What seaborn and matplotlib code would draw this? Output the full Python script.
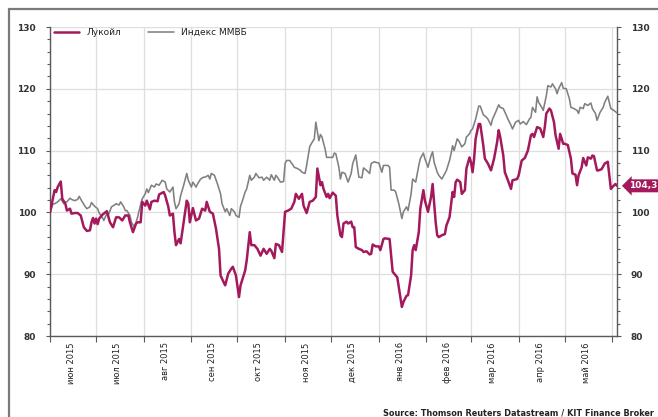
import matplotlib
matplotlib.use("Agg")
import matplotlib.pyplot as plt
import matplotlib.dates as mdates
import matplotlib.transforms as mtransforms
from matplotlib.ticker import MultipleLocator, FixedLocator, FixedFormatter, NullFormatter
from matplotlib.lines import Line2D
import pandas as pd
import seaborn as sns

# ---------------- data ----------------
series_names = ["Лукойл", "Индекс ММВБ"]

luk_dates = [
    "2015-06-01", "2015-06-04", "2015-06-05", "2015-06-06", "2015-06-08", "2015-06-09", "2015-06-11", "2015-06-12", "2015-06-14", "2015-06-15",
    "2015-06-17", "2015-06-19", "2015-06-21", "2015-06-23", "2015-06-25", "2015-06-27", "2015-06-28", "2015-06-29", "2015-06-30", "2015-07-01",
    "2015-07-02", "2015-07-03", "2015-07-05", "2015-07-08", "2015-07-10", "2015-07-12", "2015-07-14", "2015-07-16", "2015-07-18", "2015-07-20",
    "2015-07-22", "2015-07-23", "2015-07-25", "2015-07-27", "2015-07-28", "2015-07-30", "2015-07-31", "2015-08-02", "2015-08-03", "2015-08-05",
    "2015-08-06", "2015-08-08", "2015-08-10", "2015-08-11", "2015-08-14", "2015-08-15", "2015-08-17", "2015-08-18", "2015-08-20", "2015-08-21",
    "2015-08-22", "2015-08-24", "2015-08-25", "2015-08-27", "2015-08-29", "2015-08-30", "2015-08-31", "2015-09-02", "2015-09-04", "2015-09-06",
    "2015-09-08", "2015-09-10", "2015-09-11", "2015-09-13", "2015-09-15", "2015-09-17", "2015-09-19", "2015-09-20", "2015-09-22", "2015-09-23",
    "2015-09-25", "2015-09-27", "2015-09-28", "2015-09-30", "2015-10-02", "2015-10-03", "2015-10-06", "2015-10-07", "2015-10-09", "2015-10-10",
    "2015-10-12", "2015-10-14", "2015-10-16", "2015-10-18", "2015-10-20", "2015-10-22", "2015-10-23", "2015-10-25", "2015-10-26", "2015-10-28",
    "2015-10-30", "2015-11-01", "2015-11-03", "2015-11-05", "2015-11-07", "2015-11-08", "2015-11-10", "2015-11-12", "2015-11-13", "2015-11-15",
    "2015-11-17", "2015-11-19", "2015-11-21", "2015-11-22", "2015-11-24", "2015-11-25", "2015-11-26", "2015-11-28", "2015-11-29", "2015-11-30",
    "2015-12-02", "2015-12-04", "2015-12-05", "2015-12-07", "2015-12-08", "2015-12-09", "2015-12-11", "2015-12-12", "2015-12-14", "2015-12-15",
    "2015-12-16", "2015-12-17", "2015-12-19", "2015-12-21", "2015-12-22", "2015-12-24", "2015-12-26", "2015-12-27", "2015-12-28", "2015-12-30",
    "2016-01-01", "2016-01-02", "2016-01-04", "2016-01-05", "2016-01-08", "2016-01-09", "2016-01-10", "2016-01-12", "2016-01-13", "2016-01-14",
    "2016-01-16", "2016-01-17", "2016-01-19", "2016-01-20", "2016-01-22", "2016-01-23", "2016-01-24", "2016-01-25", "2016-01-27", "2016-01-28",
    "2016-01-30", "2016-01-31", "2016-02-02", "2016-02-04", "2016-02-05", "2016-02-07", "2016-02-08", "2016-02-09", "2016-02-11", "2016-02-13",
    "2016-02-14", "2016-02-16", "2016-02-18", "2016-02-19", "2016-02-20", "2016-02-21", "2016-02-23", "2016-02-24", "2016-02-26", "2016-02-27",
    "2016-02-29", "2016-03-01", "2016-03-02", "2016-03-03", "2016-03-04", "2016-03-06", "2016-03-07", "2016-03-09", "2016-03-10", "2016-03-12",
    "2016-03-14", "2016-03-16", "2016-03-18", "2016-03-19", "2016-03-20", "2016-03-22", "2016-03-23", "2016-03-25", "2016-03-27", "2016-03-28",
    "2016-03-31", "2016-04-01", "2016-04-03", "2016-04-05", "2016-04-07", "2016-04-09", "2016-04-10", "2016-04-11", "2016-04-13", "2016-04-15",
    "2016-04-17", "2016-04-18", "2016-04-19", "2016-04-21", "2016-04-22", "2016-04-24", "2016-04-25", "2016-04-27", "2016-04-28", "2016-04-30",
    "2016-05-01", "2016-05-03", "2016-05-05", "2016-05-06", "2016-05-08", "2016-05-09", "2016-05-10", "2016-05-12", "2016-05-13", "2016-05-15",
    "2016-05-16", "2016-05-18", "2016-05-19", "2016-05-20", "2016-05-22", "2016-05-23", "2016-05-25", "2016-05-27", "2016-05-29", "2016-05-31",
    "2016-06-01", "2016-06-03", "2016-06-04",
]
luk_vals = [
    100.0, 103.6, 103.3, 104.1, 105.0, 102.2, 101.4, 100.3, 100.6, 99.8,
    99.9, 99.9, 99.5, 97.6, 97.0, 97.1, 98.4, 99.1, 98.2, 99.0,
    98.1, 99.0, 99.6, 100.2, 98.4, 97.6, 99.2, 99.2, 98.7, 99.5,
    99.5, 98.4, 96.8, 98.2, 98.4, 98.4, 101.7, 101.1, 101.9, 100.5,
    101.7, 101.9, 101.8, 102.9, 103.3, 102.7, 100.9, 99.5, 99.8, 96.8,
    94.7, 95.7, 95.0, 98.4, 101.9, 101.4, 98.4, 100.7, 98.7, 99.0,
    100.6, 100.3, 101.7, 100.1, 99.8, 97.4, 94.1, 89.8, 88.7, 88.2,
    90.1, 90.9, 91.2, 89.8, 86.3, 88.2, 90.6, 92.2, 96.8, 94.7,
    94.7, 94.1, 93.0, 94.1, 93.3, 94.1, 93.8, 92.6, 94.9, 94.7,
    93.6, 100.1, 100.3, 100.6, 101.7, 103.0, 102.2, 103.0, 101.1, 99.9,
    101.7, 101.9, 102.5, 107.1, 104.4, 104.9, 103.8, 102.5, 103.0, 102.3,
    103.2, 102.7, 99.5, 96.3, 96.0, 98.2, 98.5, 98.2, 98.5, 97.6,
    97.6, 94.4, 94.1, 93.9, 93.6, 93.7, 93.2, 93.3, 94.8, 94.5,
    94.5, 93.9, 95.7, 95.8, 95.7, 93.0, 90.4, 89.8, 89.5, 87.9,
    84.7, 85.5, 86.5, 86.6, 89.8, 93.9, 94.7, 93.9, 96.8, 100.6,
    103.6, 101.9, 100.1, 102.5, 104.6, 98.4, 96.3, 96.0, 96.3, 96.5,
    97.9, 99.2, 103.3, 102.5, 104.9, 105.3, 104.9, 103.0, 103.6, 107.1,
    108.9, 108.1, 106.5, 108.7, 111.9, 114.3, 114.3, 110.8, 108.7, 107.9,
    106.8, 108.7, 111.4, 113.3, 112.2, 109.2, 106.5, 105.2, 103.8, 105.2,
    105.4, 106.0, 108.4, 108.8, 110.0, 112.5, 112.7, 112.2, 113.8, 113.6,
    112.2, 113.8, 116.0, 116.8, 116.5, 114.6, 112.5, 110.3, 112.7, 111.1,
    111.1, 110.9, 108.7, 106.3, 106.1, 104.4, 106.0, 107.3, 108.8, 107.6,
    108.9, 108.7, 109.2, 109.1, 106.8, 106.8, 107.0, 107.9, 108.2, 103.8,
    104.1, 104.6, 104.3,
]

micex_dates = [
    "2015-06-01", "2015-06-03", "2015-06-04", "2015-06-06", "2015-06-08", "2015-06-10", "2015-06-11", "2015-06-12", "2015-06-14", "2015-06-15",
    "2015-06-17", "2015-06-19", "2015-06-20", "2015-06-22", "2015-06-24", "2015-06-25", "2015-06-27", "2015-06-28", "2015-06-30", "2015-07-02",
    "2015-07-03", "2015-07-05", "2015-07-06", "2015-07-08", "2015-07-09", "2015-07-11", "2015-07-13", "2015-07-14", "2015-07-16", "2015-07-17",
    "2015-07-19", "2015-07-20", "2015-07-21", "2015-07-23", "2015-07-24", "2015-07-26", "2015-07-28", "2015-07-29", "2015-07-31", "2015-08-02",
    "2015-08-03", "2015-08-04", "2015-08-06", "2015-08-08", "2015-08-09", "2015-08-11", "2015-08-13", "2015-08-15", "2015-08-16", "2015-08-18",
    "2015-08-20", "2015-08-21", "2015-08-22", "2015-08-24", "2015-08-25", "2015-08-27", "2015-08-29", "2015-08-30", "2015-09-01", "2015-09-02",
    "2015-09-04", "2015-09-05", "2015-09-07", "2015-09-09", "2015-09-10", "2015-09-12", "2015-09-13", "2015-09-14", "2015-09-16", "2015-09-18",
    "2015-09-20", "2015-09-21", "2015-09-23", "2015-09-24", "2015-09-26", "2015-09-27", "2015-09-29", "2015-09-30", "2015-10-02", "2015-10-03",
    "2015-10-04", "2015-10-06", "2015-10-07", "2015-10-09", "2015-10-10", "2015-10-12", "2015-10-13", "2015-10-15", "2015-10-17", "2015-10-18",
    "2015-10-20", "2015-10-22", "2015-10-23", "2015-10-25", "2015-10-26", "2015-10-27", "2015-10-29", "2015-10-31", "2015-11-01", "2015-11-02",
    "2015-11-04", "2015-11-06", "2015-11-07", "2015-11-09", "2015-11-11", "2015-11-12", "2015-11-14", "2015-11-15", "2015-11-17", "2015-11-18",
    "2015-11-20", "2015-11-21", "2015-11-23", "2015-11-24", "2015-11-25", "2015-11-27", "2015-11-28", "2015-11-30", "2015-12-02", "2015-12-03",
    "2015-12-04", "2015-12-06", "2015-12-07", "2015-12-08", "2015-12-10", "2015-12-12", "2015-12-14", "2015-12-15", "2015-12-17", "2015-12-19",
    "2015-12-21", "2015-12-22", "2015-12-24", "2015-12-26", "2015-12-27", "2015-12-29", "2015-12-30", "2016-01-01", "2016-01-03", "2016-01-04",
    "2016-01-07", "2016-01-08", "2016-01-09", "2016-01-11", "2016-01-12", "2016-01-14", "2016-01-16", "2016-01-17", "2016-01-19", "2016-01-20",
    "2016-01-22", "2016-01-23", "2016-01-25", "2016-01-27", "2016-01-28", "2016-01-30", "2016-01-31", "2016-02-02", "2016-02-04", "2016-02-05",
    "2016-02-06", "2016-02-08", "2016-02-09", "2016-02-11", "2016-02-13", "2016-02-14", "2016-02-16", "2016-02-17", "2016-02-18", "2016-02-19",
    "2016-02-21", "2016-02-22", "2016-02-24", "2016-02-26", "2016-02-27", "2016-02-29", "2016-03-01", "2016-03-02", "2016-03-04", "2016-03-06",
    "2016-03-07", "2016-03-09", "2016-03-11", "2016-03-12", "2016-03-14", "2016-03-15", "2016-03-17", "2016-03-19", "2016-03-20", "2016-03-22",
    "2016-03-24", "2016-03-25", "2016-03-27", "2016-03-28", "2016-03-30", "2016-04-01", "2016-04-02", "2016-04-04", "2016-04-06", "2016-04-08",
    "2016-04-09", "2016-04-10", "2016-04-12", "2016-04-13", "2016-04-14", "2016-04-16", "2016-04-17", "2016-04-19", "2016-04-20", "2016-04-22",
    "2016-04-23", "2016-04-25", "2016-04-26", "2016-04-27", "2016-04-29", "2016-04-30", "2016-05-02", "2016-05-04", "2016-05-05", "2016-05-07",
    "2016-05-09", "2016-05-10", "2016-05-11", "2016-05-13", "2016-05-14", "2016-05-16", "2016-05-18", "2016-05-19", "2016-05-21", "2016-05-22",
    "2016-05-24", "2016-05-26", "2016-05-27", "2016-05-29", "2016-05-30", "2016-05-31", "2016-06-02", "2016-06-04",
]
micex_vals = [
    100.0, 101.4, 101.4, 101.7, 102.2, 101.4, 101.7, 101.7, 102.3, 102.1,
    101.9, 102.1, 102.6, 101.7, 100.9, 100.6, 100.9, 101.6, 101.0, 100.6,
    99.9, 99.2, 98.7, 99.8, 99.6, 100.9, 101.2, 101.4, 101.2, 101.7,
    100.9, 100.3, 100.3, 99.5, 98.4, 97.6, 99.2, 100.3, 102.2, 103.0,
    103.8, 103.2, 104.4, 104.1, 104.6, 104.4, 105.2, 104.9, 103.8, 103.3,
    104.1, 101.7, 100.6, 101.4, 102.7, 104.4, 106.3, 105.2, 104.1, 104.9,
    104.1, 104.6, 105.4, 105.7, 105.7, 106.0, 105.4, 106.3, 106.0, 104.6,
    103.0, 101.4, 100.1, 100.6, 99.5, 100.6, 100.1, 99.5, 99.2, 101.0,
    101.7, 103.3, 103.8, 106.0, 105.2, 105.7, 106.3, 105.6, 105.7, 105.2,
    105.7, 105.2, 106.1, 105.2, 106.0, 105.7, 104.9, 105.0, 107.9, 108.4,
    108.4, 107.7, 107.3, 107.1, 106.8, 106.5, 106.3, 107.6, 110.6, 111.1,
    111.9, 114.6, 111.6, 112.6, 112.2, 110.3, 108.9, 108.9, 108.9, 109.6,
    109.5, 107.3, 105.4, 106.5, 106.3, 104.9, 106.3, 107.9, 109.3, 105.7,
    105.6, 107.2, 106.8, 106.3, 107.9, 108.2, 108.1, 108.0, 106.5, 107.6,
    107.6, 107.3, 103.6, 103.6, 103.3, 101.4, 99.0, 100.1, 100.9, 100.3,
    103.0, 105.4, 104.9, 107.6, 108.7, 109.6, 108.7, 107.3, 109.2, 109.8,
    108.1, 106.5, 106.0, 105.4, 106.3, 106.8, 108.4, 109.5, 110.8, 110.0,
    111.9, 111.6, 110.6, 111.1, 112.2, 112.7, 113.3, 113.5, 115.1, 117.2,
    117.2, 115.8, 115.4, 115.1, 114.1, 115.1, 116.2, 117.4, 117.0, 116.8,
    115.7, 115.1, 114.1, 113.5, 114.6, 114.9, 114.3, 114.7, 114.2, 115.1,
    115.4, 117.0, 116.2, 118.7, 117.8, 117.0, 116.5, 118.9, 120.5, 120.3,
    120.8, 120.0, 119.2, 120.0, 121.0, 120.1, 120.0, 118.4, 117.0, 116.8,
    116.5, 116.0, 117.0, 116.8, 117.6, 117.3, 117.7, 116.8, 116.0, 114.9,
    116.2, 117.0, 117.8, 118.8, 117.8, 116.8, 116.5, 116.1,
]

month_starts = [
    "2015-06-01", "2015-07-01", "2015-08-01", "2015-09-01", "2015-10-01", "2015-11-01",
    "2015-12-01", "2016-01-01", "2016-02-01", "2016-03-01", "2016-04-01", "2016-05-01", "2016-06-01",
]
month_mids = [
    "2015-06-15", "2015-07-15", "2015-08-15", "2015-09-15", "2015-10-15", "2015-11-15",
    "2015-12-15", "2016-01-15", "2016-02-15", "2016-03-15", "2016-04-15", "2016-05-15",
]
month_labels = [
    "июн 2015", "июл 2015", "авг 2015", "сен 2015", "окт 2015", "ноя 2015",
    "дек 2015", "янв 2016", "фев 2016", "мар 2016", "апр 2016", "май 2016",
]
y_ticks = [80, 90, 100, 110, 120, 130]
x_range = ["2015-06-01", "2016-06-04"]
source_text = "Source: Thomson Reuters Datastream / KIT Finance Broker"

assert len(luk_dates) == len(luk_vals)
assert len(micex_dates) == len(micex_vals)

# ---------------- styling ----------------
sns.set_theme(style="white")
plt.rcParams["font.family"] = ["DejaVu Sans"]

LUK_COLOR = "#a3195b"
MICEX_COLOR = "#808080"
GRID_COLOR = "#dedede"
AXIS_COLOR = "#5a5a5a"

df_l = pd.DataFrame({"date": pd.to_datetime(luk_dates), "value": luk_vals})
df_m = pd.DataFrame({"date": pd.to_datetime(micex_dates), "value": micex_vals})

fig = plt.figure(figsize=(6.58, 4.17), dpi=100)
fig.patch.set_facecolor("white")
ax = fig.add_axes([50 / 658, 1 - 336 / 417, 567 / 658, 309 / 417])
ax.set_facecolor("white")

sns.lineplot(data=df_m, x="date", y="value", ax=ax, color=MICEX_COLOR, linewidth=1.15,
             estimator=None, sort=False, label=series_names[1], zorder=3)
sns.lineplot(data=df_l, x="date", y="value", ax=ax, color=LUK_COLOR, linewidth=1.8,
             estimator=None, sort=False, label=series_names[0], zorder=4)

ax.set_xlim(pd.Timestamp(x_range[0]), pd.Timestamp(x_range[1]))
ax.set_ylim(y_ticks[0], y_ticks[-1])
ax.set_xlabel("")
ax.set_ylabel("")

# x axis: month boundaries as ticks, labels at mid-month
ax.xaxis.set_major_locator(FixedLocator(mdates.date2num(pd.to_datetime(month_starts))))
ax.xaxis.set_major_formatter(NullFormatter())
ax.xaxis.set_minor_locator(FixedLocator(mdates.date2num(pd.to_datetime(month_mids))))
ax.xaxis.set_minor_formatter(FixedFormatter(month_labels))
ax.tick_params(axis="x", which="major", direction="out", length=4, width=0.8,
               color=AXIS_COLOR, bottom=True)
ax.tick_params(axis="x", which="minor", length=0, pad=4.5, labelsize=6,
               labelrotation=90, labelcolor="#222222", bottom=True)
for lbl in ax.xaxis.get_minorticklabels():
    lbl.set_ha("center")
    lbl.set_va("top")

# y axis on both sides
ax.yaxis.set_major_locator(FixedLocator(y_ticks))
ax.yaxis.set_minor_locator(MultipleLocator(2))
ax.tick_params(axis="y", which="both", direction="out", left=True, right=True,
               labelleft=True, labelright=True, color=AXIS_COLOR, width=0.8)
ax.tick_params(axis="y", which="major", length=3, pad=7, labelsize=6.5, labelcolor="#333333")
ax.tick_params(axis="y", which="minor", length=2)
for lbl in ax.get_yticklabels():
    lbl.set_fontweight("bold")

ax.grid(True, which="major", axis="both", color=GRID_COLOR, linewidth=0.9, zorder=0)
ax.set_axisbelow(True)

for side in ["left", "right", "bottom"]:
    ax.spines[side].set_visible(True)
    ax.spines[side].set_color(AXIS_COLOR)
    ax.spines[side].set_linewidth(1.0)
ax.spines["top"].set_visible(False)

# legend
handles, labels = ax.get_legend_handles_labels()
order = [labels.index(series_names[0]), labels.index(series_names[1])]
leg = ax.legend([handles[i] for i in order], [labels[i] for i in order],
                loc="upper left", bbox_to_anchor=(0.007, 0.997), ncol=2, frameon=False,
                fontsize=6.5, handlelength=2.8, handletextpad=0.8, columnspacing=3.0,
                borderpad=0, borderaxespad=0)
for t in leg.get_texts():
    t.set_color("#222222")

# last value tag on the right axis
trans = mtransforms.blended_transform_factory(ax.transAxes, ax.transData)
last_txt = f"{luk_vals[-1]:.1f}".replace(".", ",")
ax.text(1.0 + 12 / 567, luk_vals[-1], last_txt, transform=trans, ha="left", va="center",
        color="white", fontsize=6.5, fontweight="bold", clip_on=False, zorder=6,
        bbox=dict(boxstyle="larrow,pad=0.22", fc=LUK_COLOR, ec="none"))

# outer frame (cropped box)
fig.add_artist(Line2D([9 / 658, 1.0], [1 - 9 / 417, 1 - 9 / 417], transform=fig.transFigure,
                      color="#7a7a7a", linewidth=1.6))
fig.add_artist(Line2D([9 / 658, 9 / 658], [0.0, 1 - 9 / 417], transform=fig.transFigure,
                      color="#7a7a7a", linewidth=1.6))

fig.text(383 / 658, 1 - 413 / 417, source_text, fontsize=5.9, fontweight="bold",
         ha="left", va="center", color="#222222")

fig.savefig("out.png", dpi=100, facecolor="white")
